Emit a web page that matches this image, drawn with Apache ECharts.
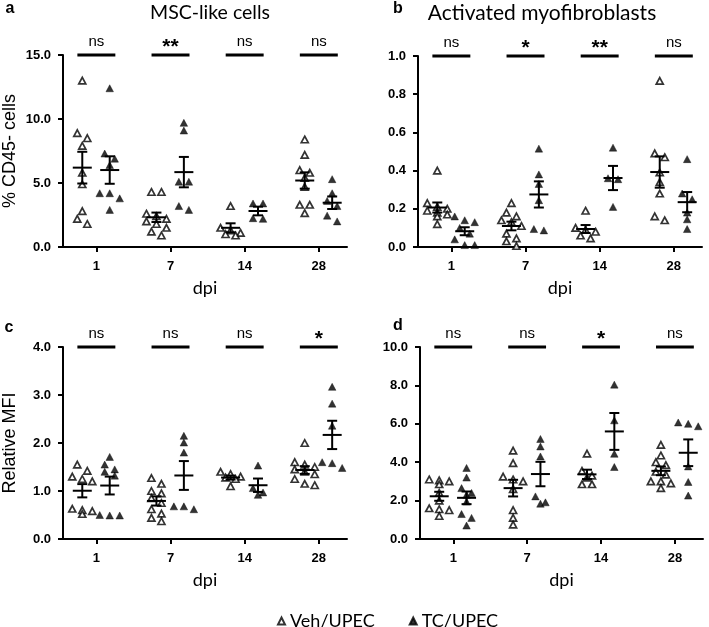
<!DOCTYPE html>
<html><head><meta charset="utf-8">
<script src="https://cdn.jsdelivr.net/npm/echarts@6/dist/echarts.min.js"></script>
<style>html,body{margin:0;padding:0;background:#fff}#c{width:709px;height:627px}</style>
</head><body><div id="c"></div>
<script>
// ---- data ----
const days = ['1', '7', '14', '28'];

const aVeh = [
  [13.0, 8.9, 8.5, 7.9, 5.8, 4.9, 2.8, 2.2, 1.8],
  [4.3, 4.3, 2.6, 2.4, 2.2, 2.0, 1.8, 1.5, 1.2, 0.9],
  [3.2, 1.5, 1.3, 1.1, 1.0, 0.9],
  [8.4, 7.2, 6.0, 5.8, 5.4, 4.7, 3.3, 3.3, 2.65]
];
const aTC = [
  [12.4, 7.3, 6.9, 6.4, 4.2, 4.2, 3.8, 2.9],
  [9.7, 9.1, 5.1, 5.1, 3.2, 2.9],
  [3.4, 3.4, 2.25, 2.2],
  [5.3, 4.2, 3.6, 3.2, 2.45, 2.0]
];
const bVeh = [
  [0.40, 0.23, 0.21, 0.20, 0.19, 0.18, 0.17, 0.16, 0.12],
  [0.23, 0.18, 0.16, 0.14, 0.13, 0.11, 0.07, 0.045, 0.03, 0.005],
  [0.19, 0.10, 0.09, 0.08, 0.06, 0.045],
  [0.87, 0.49, 0.47, 0.39, 0.34, 0.28, 0.16, 0.14]
];
const bTC = [
  [0.16, 0.14, 0.13, 0.10, 0.07, 0.04, 0.01, 0.01],
  [0.515, 0.38, 0.33, 0.245, 0.094, 0.087],
  [0.52, 0.36, 0.355, 0.21],
  [0.46, 0.28, 0.25, 0.18, 0.145, 0.094]
];
const cVeh = [
  [1.55, 1.42, 1.30, 1.25, 1.20, 0.63, 0.60, 0.58, 0.52],
  [1.27, 1.15, 1.0, 0.95, 0.85, 0.75, 0.62, 0.53, 0.44, 0.37],
  [1.40, 1.35, 1.30, 1.28, 1.25, 1.10],
  [2.0, 1.60, 1.55, 1.50, 1.45, 1.40, 1.35, 1.25, 1.15, 1.12]
];
const cTC = [
  [1.71, 1.55, 1.45, 1.40, 1.32, 0.50, 0.49, 0.49],
  [2.15, 2.01, 1.80, 0.68, 0.68, 0.62],
  [1.53, 1.06, 0.97, 0.92],
  [3.17, 2.82, 2.36, 1.60, 1.58, 1.48]
];
const dVeh = [
  [3.1, 3.05, 3.0, 2.85, 2.4, 2.0, 1.6, 1.55, 1.5, 1.2],
  [4.6, 3.95, 3.25, 3.1, 3.0, 2.6, 1.5, 1.1, 0.75],
  [4.45, 3.55, 3.3, 3.2, 2.85, 2.85],
  [4.9, 4.35, 4.0, 3.85, 3.5, 3.35, 3.0, 3.0, 2.9, 2.65]
];
const dTC = [
  [3.7, 3.2, 2.65, 2.4, 2.3, 1.95, 1.3, 1.1, 0.7],
  [5.21, 4.82, 4.30, 2.22, 1.91, 1.84],
  [8.04, 6.18, 4.44, 3.75],
  [6.07, 6.0, 5.87, 3.78, 2.97, 2.26]
];
const aSig = ['ns', '**', 'ns', 'ns'];
const bSig = ['ns', '*', '**', 'ns'];
const cSig = ['ns', 'ns', 'ns', '*'];
const dSig = ['ns', 'ns', '*', 'ns'];

const panelTitles = ['MSC-like cells', 'Activated myofibroblasts'];
const yNames = ['% CD45- cells', 'Relative MFI'];
const xName = 'dpi';
const groupNames = ['Veh/UPEC', 'TC/UPEC'];

// ---- layout ----
const XMIN = -0.45, XMAX = 3.38;
const panels = [
  {veh: aVeh, tc: aTC, sig: aSig, max: 15, interval: 5, grid: {left: 63, top: 55, width: 284, height: 192}, yName: yNames[0]},
  {veh: bVeh, tc: bTC, sig: bSig, max: 1, interval: 0.2, grid: {left: 418, top: 56, width: 284, height: 191}, yName: ''},
  {veh: cVeh, tc: cTC, sig: cSig, max: 4, interval: 1, grid: {left: 63, top: 347, width: 284, height: 192}, yName: yNames[1]},
  {veh: dVeh, tc: dTC, sig: dSig, max: 10, interval: 2, grid: {left: 420, top: 347, width: 283, height: 192}, yName: ''}
];
const VEH_OFF = -0.19, TC_OFF = 0.18;

function swarm(values, pxPerY) {
  const idx = values.map((v, i) => i).sort((a, b) => values[b] - values[a]);
  const rows = [];
  idx.forEach(i => {
    const v = values[i];
    const row = rows[rows.length - 1];
    if (row && (row.top - v) * pxPerY < 6.5 && row.items.length < 3) row.items.push(i);
    else rows.push({top: v, items: [i]});
  });
  const off = new Array(values.length);
  rows.forEach(r => {
    const n = r.items.length;
    r.items.forEach((i, k) => { off[i] = (k - (n - 1) / 2) * 10; });
  });
  return off;
}
function meanSem(arr) {
  const n = arr.length;
  const m = arr.reduce((s, v) => s + v, 0) / n;
  const sd = Math.sqrt(arr.reduce((s, v) => s + (v - m) * (v - m), 0) / (n - 1));
  return [m, sd / Math.sqrt(n)];
}

const grids = [], xAxes = [], yAxes = [], series = [];
const axisFont = {fontFamily: 'Liberation Sans', fontWeight: 'bold', fontSize: 13, color: '#000'};
panels.forEach((p, pi) => {
  grids.push(Object.assign({containLabel: false}, p.grid));
  const pxPerY = p.grid.height / p.max;
  const pxPerX = p.grid.width / (XMAX - XMIN);
  xAxes.push({
    gridIndex: pi, type: 'value', min: XMIN, max: XMAX,
    name: xName, nameLocation: 'middle', nameGap: 32,
    nameTextStyle: {fontFamily: 'Lato', fontSize: 18, color: '#000'},
    axisLine: {show: true, onZero: false, lineStyle: {color: '#000', width: 2}},
    axisTick: {show: true, length: 5, lineStyle: {color: '#000', width: 2}, customValues: [0, 1, 2, 3]},
    axisLabel: Object.assign({margin: 13, customValues: [0, 1, 2, 3], formatter: v => days[Math.round(v)]}, axisFont),
    splitLine: {show: false}
  });
  yAxes.push({
    gridIndex: pi, type: 'value', min: 0, max: p.max, interval: p.interval,
    name: p.yName, nameLocation: 'middle', nameGap: 44,
    nameTextStyle: {fontFamily: 'Liberation Sans', fontSize: 18, color: '#000'},
    axisLine: {show: true, onZero: false, lineStyle: {color: '#000', width: 2}},
    axisTick: {show: true, length: 5, lineStyle: {color: '#000', width: 2}},
    axisLabel: Object.assign({margin: 12, formatter: v => v.toFixed(1)}, axisFont),
    splitLine: {show: false}
  });
  [[p.veh, VEH_OFF, 0], [p.tc, TC_OFF, 1]].forEach(([groups, goff, gi]) => {
    const pts = [];
    const eb = [];
    groups.forEach((vals, di) => {
      const off = swarm(vals, pxPerY);
      vals.forEach((v, k) => pts.push([di + goff + off[k] / pxPerX, v]));
      const [m, s] = meanSem(vals);
      eb.push([di + goff, m, m - s, m + s]);
    });
    series.push({
      type: 'scatter', name: groupNames[gi], xAxisIndex: pi, yAxisIndex: pi,
      symbol: 'triangle', symbolSize: gi === 0 ? [7, 6.5] : [7.5, 7],
      itemStyle: gi === 0 ? {color: '#fff', borderColor: '#000', borderWidth: 1.7} : {color: '#000', borderColor: '#000', borderWidth: 0.5},
      data: pts, z: 2, emphasis: {disabled: true}
    });
    series.push({
      type: 'custom', name: 'eb' + pi + gi, xAxisIndex: pi, yAxisIndex: pi, z: 3,
      data: eb, silent: true,
      renderItem: (params, api) => {
        const x = api.value(0), m = api.value(1), lo = api.value(2), hi = api.value(3);
        const pm = api.coord([x, m]), pl = api.coord([x, lo]), ph = api.coord([x, hi]);
        const st = {stroke: '#000', lineWidth: 2};
        return {type: 'group', children: [
          {type: 'line', shape: {x1: pm[0] - 9.5, y1: pm[1], x2: pm[0] + 9.5, y2: pm[1]}, style: st},
          {type: 'line', shape: {x1: pl[0], y1: pl[1], x2: ph[0], y2: ph[1]}, style: st},
          {type: 'line', shape: {x1: ph[0] - 5, y1: ph[1], x2: ph[0] + 5, y2: ph[1]}, style: st},
          {type: 'line', shape: {x1: pl[0] - 5, y1: pl[1], x2: pl[0] + 5, y2: pl[1]}, style: st}
        ]};
      }
    });
  });
  // significance bars
  series.push({
    type: 'custom', name: 'sig' + pi, xAxisIndex: pi, yAxisIndex: pi, z: 4, silent: true,
    data: p.sig.map((s, i) => [i, p.max]),
    renderItem: (params, api) => {
      const i = api.value(0), y = api.value(1);
      const a = api.coord([i - 0.256, y]), b = api.coord([i + 0.256, y]);
      const lab = p.sig[params.dataIndex];
      const isStar = lab !== 'ns';
      return {type: 'group', children: [
        {type: 'line', shape: {x1: a[0], y1: a[1], x2: b[0], y2: b[1]}, style: {stroke: '#000', lineWidth: 3}},
        {type: 'text', x: (a[0] + b[0]) / 2, y: a[1] - (isStar ? 8 : 13), style: {
          text: lab, align: 'center', verticalAlign: 'middle', fill: '#000',
          fontFamily: 'Liberation Sans', fontWeight: isStar ? 'bold' : 'normal', fontSize: isStar ? 21 : 15
        }}
      ]};
    }
  });
});

const txt = (t, x, y, font, size, weight) => ({type: 'text', x, y, silent: true, style: {
  text: t, align: 'center', verticalAlign: 'middle', fill: '#000', fontFamily: font, fontSize: size, fontWeight: weight || 'normal'}});

const option = {
  animation: false,
  backgroundColor: '#fff',
  grid: grids, xAxis: xAxes, yAxis: yAxes, series,
  legend: {
    data: [{name: groupNames[0], icon: 'triangle'}, {name: groupNames[1], icon: 'triangle'}],
    left: 272, top: 607, itemWidth: 7, itemHeight: 7, itemGap: 34,
    textStyle: {fontFamily: 'Lato', fontSize: 18, color: '#000'},
    selectedMode: false
  },
  graphic: [
    txt('a', 10, 9, 'Liberation Sans', 16, 'bold'),
    txt('b', 398, 9, 'Liberation Sans', 16, 'bold'),
    txt('c', 9, 328, 'Liberation Sans', 16, 'bold'),
    txt('d', 398, 326, 'Liberation Sans', 16, 'bold'),
    txt(panelTitles[0], 210, 13, 'Lato', 19.5),
    txt(panelTitles[1], 542, 13, 'Lato', 21)
  ]
};
const chart = echarts.init(document.getElementById('c'), null, {renderer: 'canvas'});
chart.setOption(option);
</script>
</body></html>
